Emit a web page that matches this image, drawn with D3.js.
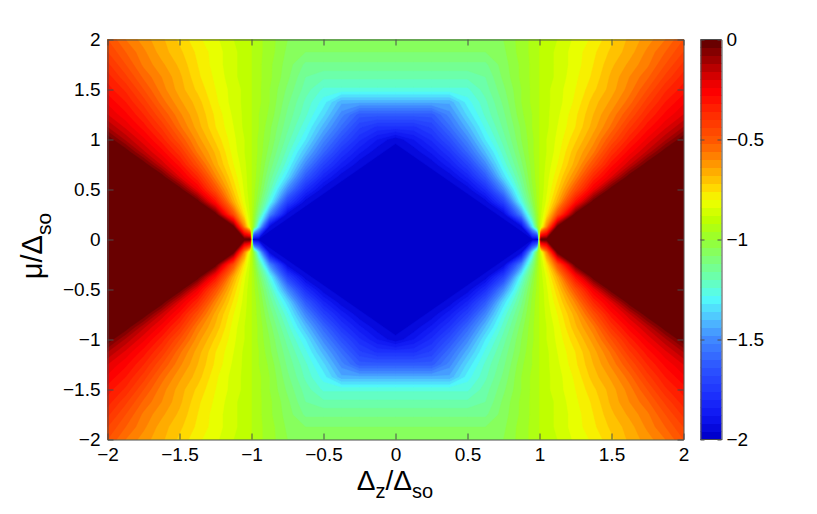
<!DOCTYPE html>
<html>
<head>
<meta charset="utf-8">
<script src="https://cdn.jsdelivr.net/npm/d3@7"></script>
<style>
body { margin: 0; background: #fff; }
text { font-family: "Liberation Sans", Arial, Helvetica, sans-serif; fill: #000; }
</style>
</head>
<body>
<svg id="chart" width="817" height="514"></svg>
<script>
// ticks
var xTicks = [-2, -1.5, -1, -0.5, 0, 0.5, 1, 1.5, 2];
var yTicks = [-2, -1.5, -1, -0.5, 0, 0.5, 1, 1.5, 2];
var cbTicks = [-2, -1.5, -1, -0.5, 0];

// colour bar (value -> colour)
var cmapValues = [-2, -1.9, -1.8, -1.65, -1.5, -1.4, -1.3, -1.2, -1.1, -1, -0.9, -0.8, -0.75, -0.65, -0.5, -0.35, -0.25, -0.2, -0.1, 0];
var cmapColors = ["rgb(0,0,205)", "rgb(14,22,242)", "rgb(28,46,252)", "rgb(45,85,255)", "rgb(65,140,255)",
  "rgb(80,195,255)", "rgb(82,250,250)", "rgb(105,255,180)", "rgb(125,255,120)", "rgb(150,255,50)",
  "rgb(190,255,0)", "rgb(240,255,0)", "rgb(255,225,0)", "rgb(255,170,0)", "rgb(255,90,0)",
  "rgb(255,40,0)", "rgb(255,0,0)", "rgb(235,0,0)", "rgb(170,0,0)", "rgb(105,0,0)"];

// one quadrant of the map (Δz >= 0, μ >= 0);
// the picture is mirror symmetric in both axes. columns are denser round Δz = 1.
var dzCols = [0, 0.125, 0.25, 0.375, 0.5, 0.625, 0.75, 0.875, 0.95, 0.99, 1, 1.01, 1.05,
  1.125, 1.25, 1.375, 1.5, 1.625, 1.75, 1.875, 2];
var muRows = [0, 0.125, 0.25, 0.375, 0.5, 0.625, 0.75, 0.875, 1, 1.125, 1.25, 1.375, 1.5, 1.625, 1.75, 1.875, 2];
var quadrant = [
  [-1.98,-1.98,-1.98,-1.98,-1.98,-1.98,-1.98,-1.98, -1.98,-1.98,-1.00,0,0, 0,0,0,0,0,0,0,0],
  [-1.98,-1.98,-1.98,-1.98,-1.98,-1.98,-1.98,-1.95, -1.35,-0.99,-0.92,-0.86,-0.59, 0,0,0,0,0,0,0,0],
  [-1.98,-1.98,-1.98,-1.98,-1.98,-1.98,-1.95,-1.50, -1.13,-0.96,-0.92,-0.89,-0.77, -0.48,0,0,0,0,0,0,0],
  [-1.98,-1.98,-1.98,-1.98,-1.98,-1.95,-1.71,-1.27, -1.05,-0.94,-0.92,-0.90,-0.83, -0.66,-0.30,0,0,0,0,0,0],
  [-1.98,-1.98,-1.98,-1.98,-1.95,-1.79,-1.50,-1.18, -1.01,-0.94,-0.92,-0.91,-0.85, -0.73,-0.48,-0.23,0,0,0,0,0],
  [-1.98,-1.98,-1.98,-1.95,-1.83,-1.63,-1.35,-1.13, -0.99,-0.93,-0.92,-0.91,-0.86, -0.77,-0.59,-0.36,-0.20,0,0,0,0],
  [-1.98,-1.98,-1.95,-1.85,-1.71,-1.50,-1.27,-1.09, -0.98,-0.93,-0.92,-0.91,-0.87, -0.80,-0.66,-0.48,-0.30,-0.17,0,0,0],
  [-1.98,-1.95,-1.87,-1.76,-1.59,-1.40,-1.22,-1.06, -0.97,-0.93,-0.92,-0.91,-0.88, -0.82,-0.69,-0.57,-0.39,-0.26,-0.15,0,0],
  [-1.95,-1.88,-1.79,-1.66,-1.50,-1.32,-1.18,-1.04, -0.97,-0.93,-0.92,-0.91,-0.88, -0.83,-0.73,-0.62,-0.48,-0.34,-0.23,-0.13,0],
  [-1.77,-1.77,-1.71,-1.57,-1.42,-1.27,-1.15,-1.03, -0.96,-0.93,-0.92,-0.91,-0.89, -0.84,-0.76,-0.66,-0.55,-0.41,-0.30,-0.21,-0.12],
  [-1.62,-1.62,-1.62,-1.50,-1.35,-1.23,-1.13,-1.01, -0.96,-0.93,-0.92,-0.91,-0.89, -0.85,-0.77,-0.68,-0.59,-0.48,-0.36,-0.27,-0.20],
  [-1.43,-1.43,-1.43,-1.43,-1.30,-1.21,-1.11,-1.00, -0.95,-0.93,-0.92,-0.91,-0.89, -0.86,-0.79,-0.70,-0.63,-0.54,-0.42,-0.32,-0.25],
  [-1.25,-1.25,-1.25,-1.25,-1.25,-1.18,-1.09,-1.00, -0.95,-0.93,-0.92,-0.91,-0.89, -0.86,-0.80,-0.73,-0.66,-0.58,-0.48,-0.37,-0.30],
  [-1.19,-1.19,-1.19,-1.19,-1.19,-1.16,-1.07,-0.99, -0.95,-0.93,-0.92,-0.91,-0.90, -0.87,-0.81,-0.75,-0.67,-0.60,-0.53,-0.43,-0.34],
  [-1.13,-1.13,-1.13,-1.13,-1.13,-1.13,-1.06,-0.99, -0.95,-0.93,-0.92,-0.91,-0.90, -0.87,-0.82,-0.76,-0.69,-0.63,-0.57,-0.48,-0.39],
  [-1.08,-1.08,-1.08,-1.08,-1.08,-1.08,-1.05,-0.98, -0.95,-0.93,-0.92,-0.91,-0.90, -0.87,-0.82,-0.77,-0.71,-0.66,-0.59,-0.52,-0.44],
  [-1.04,-1.04,-1.04,-1.04,-1.04,-1.04,-1.04,-0.98, -0.95,-0.93,-0.92,-0.91,-0.90, -0.88,-0.83,-0.79,-0.73,-0.67,-0.62,-0.56,-0.48]
];

var nLevels = 50;

var svg = d3.select("#chart");
var plotL = 107.5, plotR = 683.5, plotT = 39.5, plotB = 439.5;

var x = d3.scaleLinear().domain([-2, 2]).range([plotL, plotR]);
var y = d3.scaleLinear().domain([-2, 2]).range([plotB, plotT]);
var cmap = d3.scaleLinear().domain(cmapValues).range(cmapColors).interpolate(d3.interpolateRgb);

// mirror the quadrant into the full grid; top row is μ = 2
var hc = dzCols.length - 1, hr = muRows.length - 1;
var nc = 2 * hc + 1, nr = 2 * hr + 1;
var fullCols = d3.range(nc).map(function(c){ return (c < hc ? -1 : 1) * dzCols[Math.abs(c - hc)]; });
var fullRows = d3.range(nr).map(function(r){ return (r < hr ? 1 : -1) * muRows[Math.abs(r - hr)]; });
var values = [];
for (var r = 0; r < nr; r++) {
  for (var c = 0; c < nc; c++) {
    values.push(quadrant[Math.abs(r - hr)][Math.abs(c - hc)]);
  }
}

var thresholds = d3.range(nLevels).map(function(k){ return -2 + k * 2 / nLevels; });
function levelColor(k){ return cmap(-2 + k * 2 / (nLevels - 1)); }

var contours = d3.contours().size([nc, nr]).thresholds(thresholds)(values);

// grid coords -> data (samples sit at cell centres, spacing is uneven)
var gxToDz = d3.scaleLinear().domain(d3.range(nc).map(function(c){ return c + 0.5; })).range(fullCols);
var gyToMu = d3.scaleLinear().domain(d3.range(nr).map(function(r){ return r + 0.5; })).range(fullRows);
var proj = d3.geoTransform({
  point: function(gx, gy) { this.stream.point(x(gxToDz(gx)), y(gyToMu(gy))); }
});
var path = d3.geoPath(proj);

svg.append("defs").append("clipPath").attr("id", "plotclip")
  .append("rect").attr("x", plotL).attr("y", plotT)
  .attr("width", plotR - plotL).attr("height", plotB - plotT);

svg.append("g").attr("clip-path", "url(#plotclip)")
  .selectAll("path").data(contours).enter().append("path")
  .attr("d", path)
  .attr("fill", function(d, k){ return levelColor(k); })
  .attr("stroke", function(d, k){ return levelColor(k); })
  .attr("stroke-width", 0.4);

// axes, ticks pointing inward on all four sides
var axisColor = "#4d4d4d";
var fmt = d3.format("");

var gx = svg.append("g").attr("transform", "translate(0," + plotB + ")")
  .call(d3.axisBottom(x).tickValues(xTicks).tickFormat(fmt).tickSizeInner(-6).tickSizeOuter(0).tickPadding(8));
var gxt = svg.append("g").attr("transform", "translate(0," + plotT + ")")
  .call(d3.axisTop(x).tickValues(xTicks).tickFormat("").tickSizeInner(-6).tickSizeOuter(0));
var gy = svg.append("g").attr("transform", "translate(" + plotL + ",0)")
  .call(d3.axisLeft(y).tickValues(yTicks).tickFormat(fmt).tickSizeInner(-6).tickSizeOuter(0).tickPadding(7));
var gyr = svg.append("g").attr("transform", "translate(" + plotR + ",0)")
  .call(d3.axisRight(y).tickValues(yTicks).tickFormat("").tickSizeInner(-6).tickSizeOuter(0));

[gx, gxt, gy, gyr].forEach(function(g){
  g.select(".domain").attr("stroke", axisColor);
  g.selectAll(".tick line").attr("stroke", axisColor);
  g.selectAll("text").attr("font-size", "19px").attr("fill", "#000")
    .style("font-family", '"Liberation Sans", Arial, sans-serif');
});

// axis labels
var xl = svg.append("text").attr("x", 395).attr("y", 490)
  .attr("text-anchor", "middle").attr("font-size", "28px");
xl.append("tspan").text("Δ");
xl.append("tspan").attr("font-size", "20px").attr("dy", 8).text("z");
xl.append("tspan").attr("dy", -8).text("/Δ");
xl.append("tspan").attr("font-size", "20px").attr("dy", 8).text("so");

var yl = svg.append("text").attr("transform", "translate(42,246) rotate(-90)")
  .attr("text-anchor", "middle").attr("font-size", "29px");
yl.append("tspan").text("μ/Δ");
yl.append("tspan").attr("font-size", "21px").attr("dy", 9).text("so");

// colour bar
var cbL = 700.5, cbR = 721.5;
var cbY = d3.scaleLinear().domain([-2, 0]).range([plotB, plotT]);
var cbStep = 2 / nLevels;
svg.append("g").selectAll("rect").data(d3.range(nLevels)).enter().append("rect")
  .attr("x", cbL).attr("width", cbR - cbL)
  .attr("y", function(k){ return cbY(-2 + (k + 1) * cbStep); })
  .attr("height", function(k){ return cbY(-2 + k * cbStep) - cbY(-2 + (k + 1) * cbStep) + 0.5; })
  .attr("fill", function(k){ return levelColor(k); });

var cbAxis = svg.append("g").attr("transform", "translate(" + cbR + ",0)")
  .call(d3.axisRight(cbY).tickValues(cbTicks).tickFormat(fmt).tickSizeInner(-4).tickSizeOuter(0).tickPadding(5));
var cbAxisL = svg.append("g").attr("transform", "translate(" + cbL + ",0)")
  .call(d3.axisLeft(cbY).tickValues(cbTicks).tickFormat("").tickSizeInner(-4).tickSizeOuter(0));
[cbAxis, cbAxisL].forEach(function(g){
  g.select(".domain").attr("stroke", axisColor);
  g.selectAll(".tick line").attr("stroke", axisColor);
  g.selectAll("text").attr("font-size", "19px").attr("fill", "#000")
    .style("font-family", '"Liberation Sans", Arial, sans-serif');
});
svg.append("line").attr("x1", cbL).attr("x2", cbR).attr("y1", plotT).attr("y2", plotT).attr("stroke", axisColor);
svg.append("line").attr("x1", cbL).attr("x2", cbR).attr("y1", plotB).attr("y2", plotB).attr("stroke", axisColor);
</script>
</body>
</html>
